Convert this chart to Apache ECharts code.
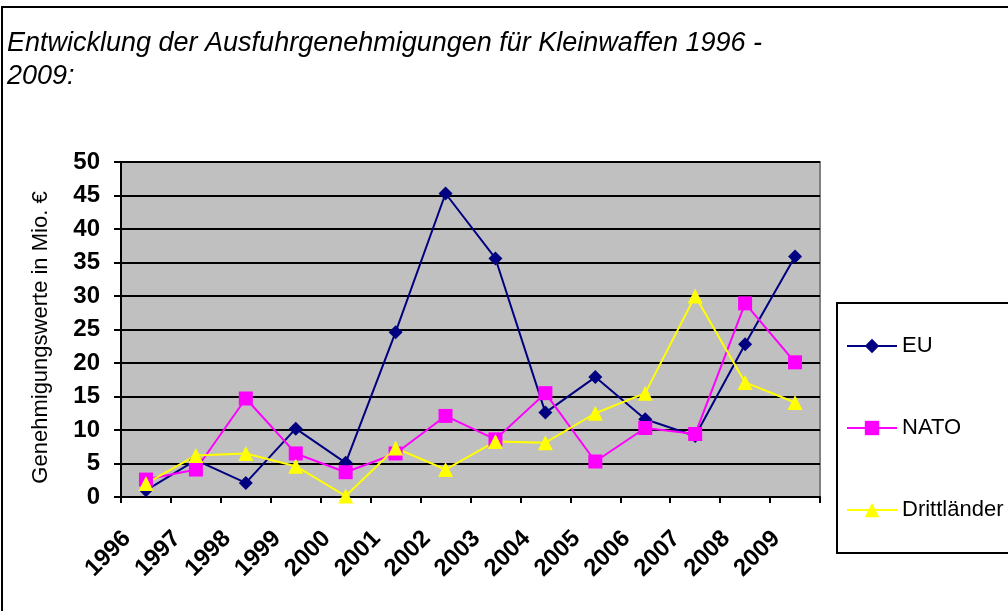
<!DOCTYPE html>
<html>
<head>
<meta charset="utf-8">
<script src="https://cdn.jsdelivr.net/npm/echarts@6/dist/echarts.min.js"></script>
<style>
  html, body { margin: 0; padding: 0; background: #fff; }
  #main { width: 1008px; height: 611px; }
</style>
</head>
<body>
<div id="main"></div>
<script>
// Jahre (Kategorien)
const years = ["1996", "1997", "1998", "1999", "2000", "2001", "2002", "2003", "2004", "2005", "2006", "2007", "2008", "2009"];

// Genehmigungswerte in Mio. €
const euValues = [1.0, 5.5, 2.1, 10.2, 5.1, 24.6, 45.3, 35.6, 12.6, 17.9, 11.6, 9.1, 22.8, 35.9];
const natoValues = [2.6, 4.1, 14.7, 6.5, 3.7, 6.5, 12.1, 8.6, 15.5, 5.3, 10.3, 9.4, 28.9, 20.1];
const drittValues = [2.0, 6.2, 6.5, 4.6, 0.15, 7.3, 4.1, 8.3, 8.1, 12.5, 15.5, 30.0, 17.1, 14.1];

const chartDom = document.getElementById("main");
const chartInstance = echarts.init(chartDom);

const font = "'Liberation Sans', Arial, sans-serif";

const option = {
  animation: false,
  backgroundColor: "#fff",
  textStyle: { fontFamily: font },
  title: {
    text: "Entwicklung der Ausfuhrgenehmigungen für Kleinwaffen 1996 -\n2009:",
    left: 2,
    top: 22,
    textStyle: {
      fontFamily: font,
      fontStyle: "italic",
      fontWeight: "normal",
      fontSize: 27,
      lineHeight: 33,
      color: "#000",
    },
  },
  graphic: [
    {
      type: "rect",
      shape: { x: 2, y: 7, width: 1100, height: 1000 },
      style: { fill: "none", stroke: "#000", lineWidth: 2 },
      silent: true,
    },
    {
      type: "rect",
      shape: { x: 837, y: 303, width: 300, height: 250 },
      style: { fill: "#fff", stroke: "#000", lineWidth: 2 },
      silent: true,
      z: 0,
    },
  ],
  legend: {
    orient: "vertical",
    left: 841,
    top: 330,
    itemWidth: 50,
    itemHeight: 18,
    itemGap: 60,
    z: 10,
    textStyle: { fontFamily: font, fontSize: 22, color: "#000" },
    data: ["EU", "NATO", "Drittländer"],
  },
  grid: {
    left: 121,
    right: 188,
    top: 162,
    bottom: 114,
    show: true,
    backgroundColor: "#C0C0C0",
    borderColor: "#808080",
    borderWidth: 2,
  },
  xAxis: {
    type: "category",
    data: years,
    boundaryGap: true,
    axisLine: { lineStyle: { color: "#000", width: 2 } },
    axisTick: { show: true, length: 6, lineStyle: { color: "#000", width: 2 } },
    axisLabel: {
      interval: 0,
      rotate: 45,
      margin: 19,
      // Excel setzt die gedrehten Jahreszahlen etwas links vom Kategoriemittelpunkt
      formatter: (v) => v + "\u00a0\u00a0\u00a0\u00a0",
      fontFamily: font,
      fontWeight: "bold",
      fontSize: 24,
      color: "#000",
    },
  },
  yAxis: {
    type: "value",
    min: 0,
    max: 50,
    interval: 5,
    name: "Genehmigungswerte in Mio. €",
    nameLocation: "middle",
    nameGap: 69,
    nameTextStyle: {
      fontFamily: font,
      fontSize: 22,
      color: "#000",
      padding: [0, 16, 0, 0],
    },
    axisLine: { show: true, lineStyle: { color: "#000", width: 2 } },
    axisTick: { show: true, length: 7, lineStyle: { color: "#000", width: 2 } },
    axisLabel: {
      margin: 21,
      fontFamily: font,
      fontWeight: "bold",
      fontSize: 24,
      color: "#000",
    },
    splitLine: { show: true, lineStyle: { color: "#000", width: 2 } },
  },
  series: [
    {
      name: "EU",
      type: "line",
      data: euValues,
      symbol: "diamond",
      symbolSize: 14,
      lineStyle: { color: "#000080", width: 2 },
      itemStyle: { color: "#000080" },
    },
    {
      name: "NATO",
      type: "line",
      data: natoValues,
      symbol: "rect",
      symbolSize: 14,
      lineStyle: { color: "#FF00FF", width: 2 },
      itemStyle: { color: "#FF00FF" },
    },
    {
      name: "Drittländer",
      type: "line",
      data: drittValues,
      symbol: "triangle",
      symbolSize: 15,
      lineStyle: { color: "#FFFF00", width: 2 },
      itemStyle: { color: "#FFFF00" },
    },
  ],
};

chartInstance.setOption(option);
</script>
</body>
</html>
